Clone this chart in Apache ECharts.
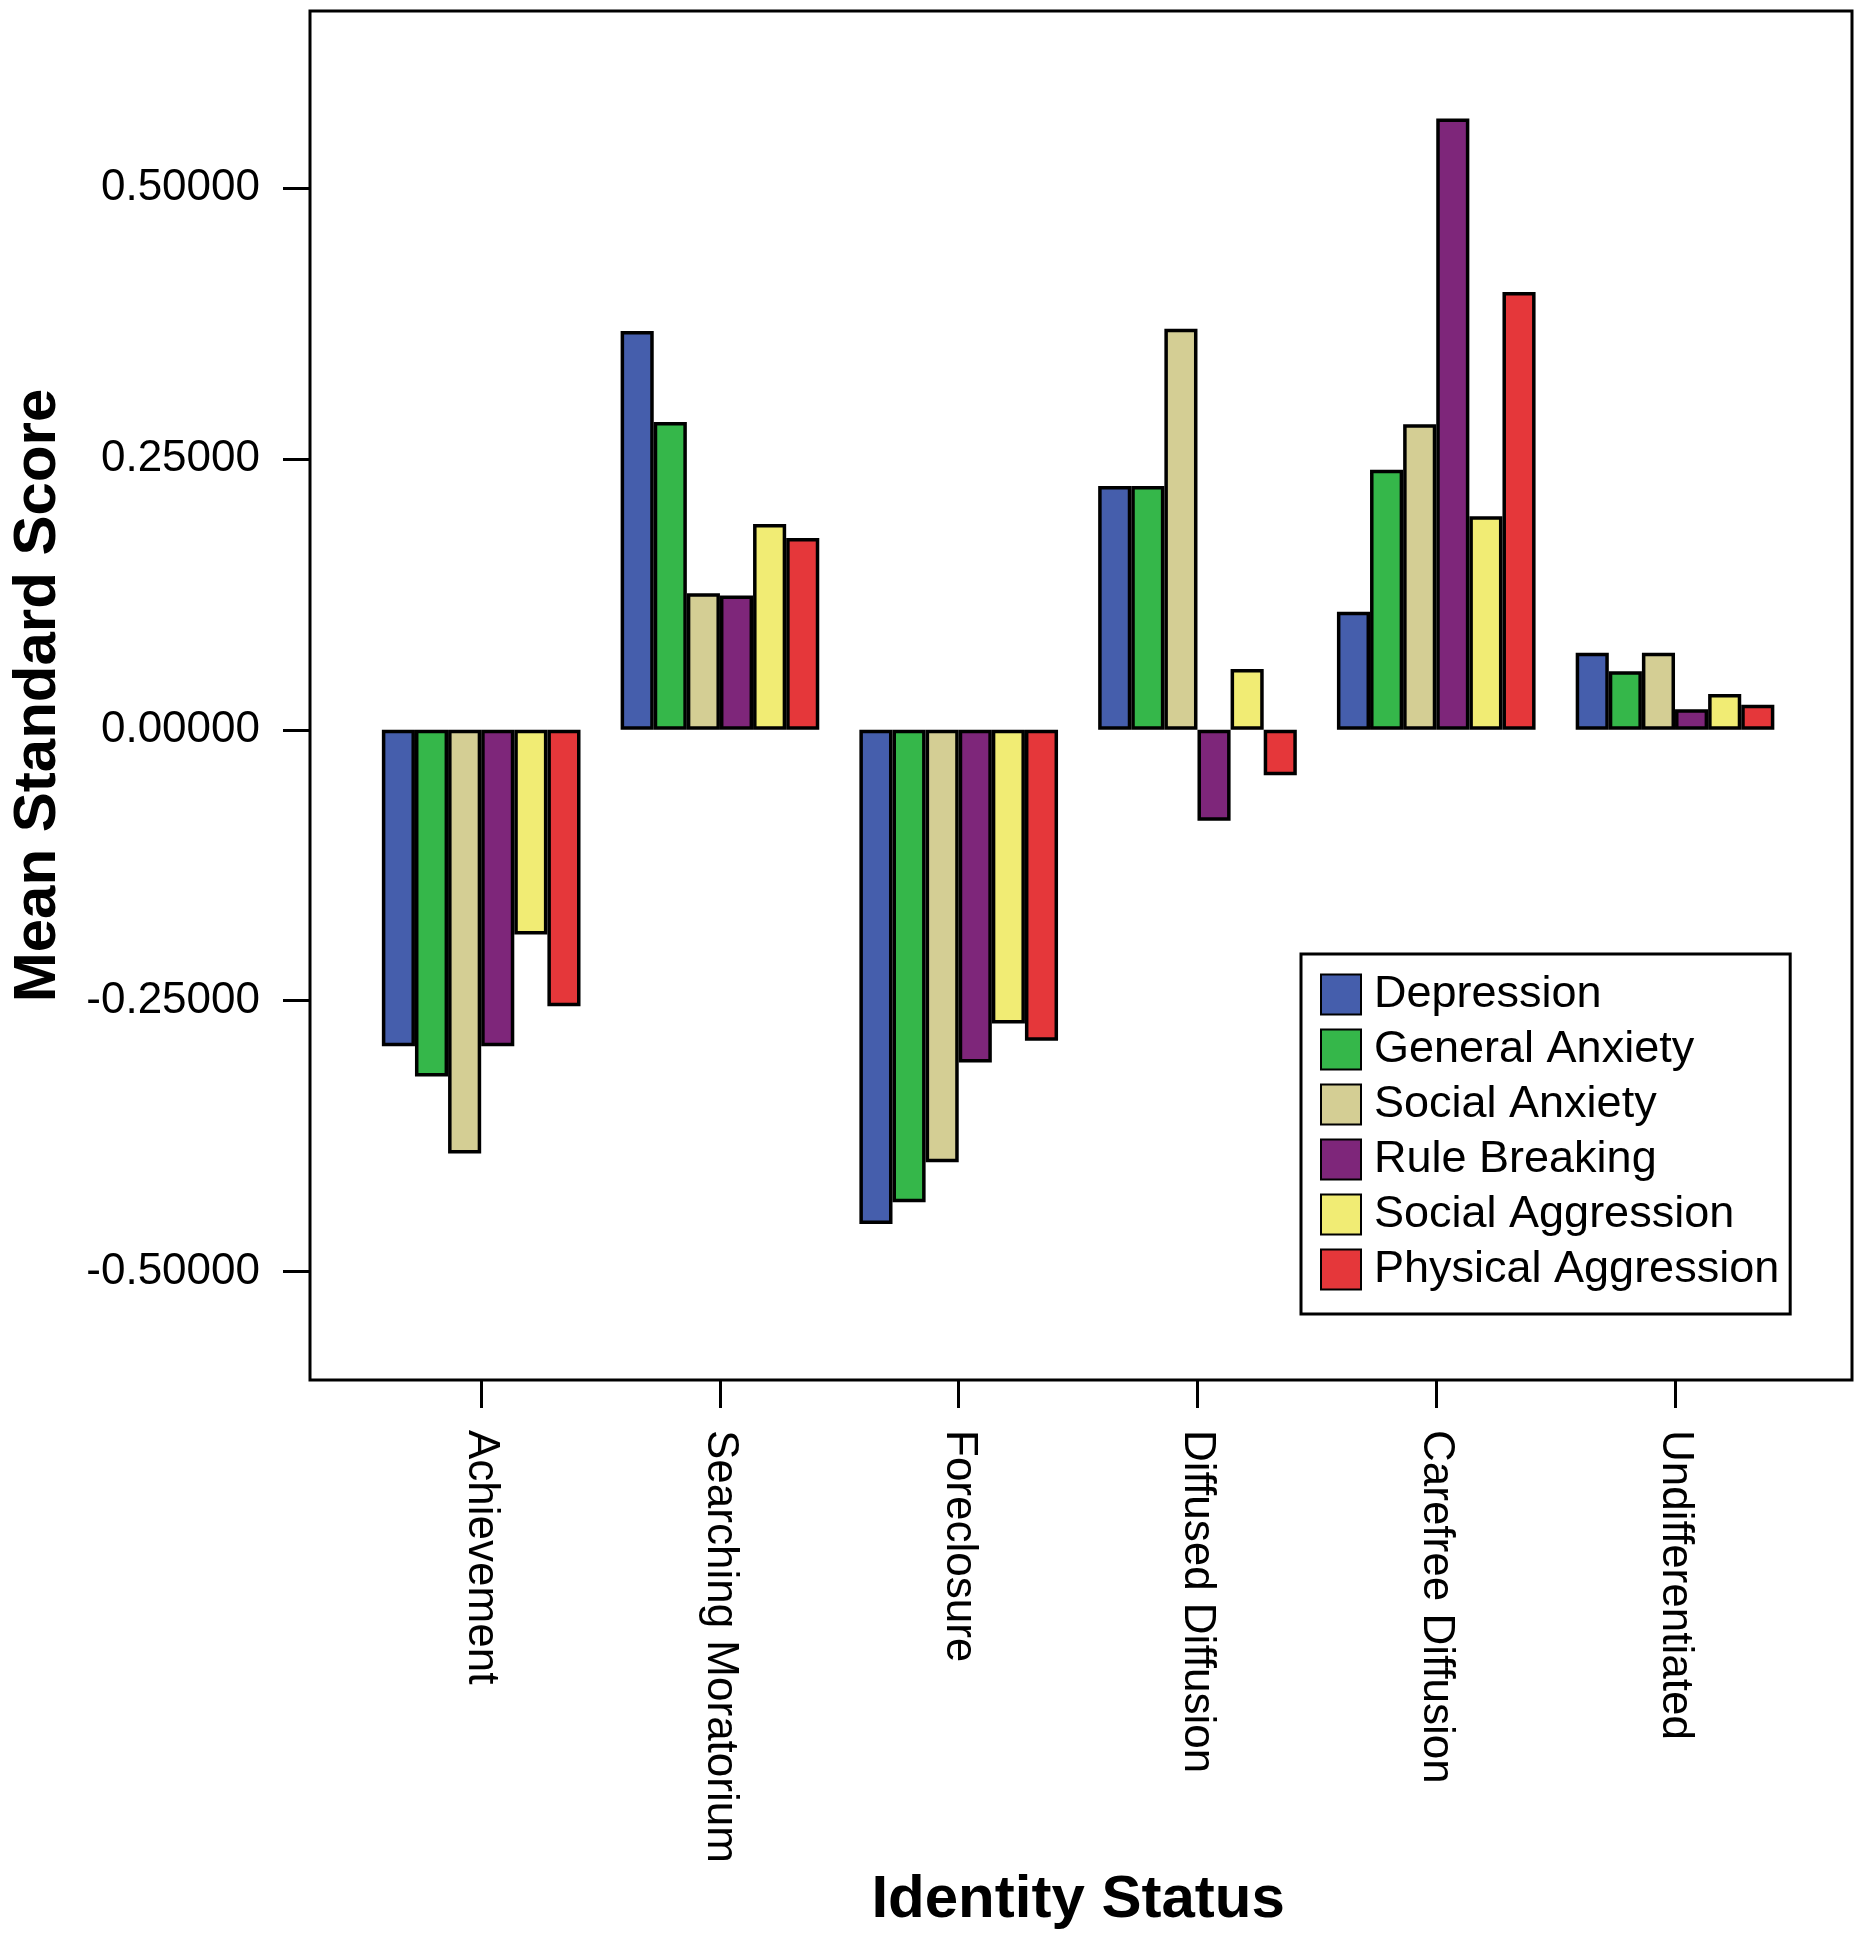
<!DOCTYPE html>
<html>
<head>
<meta charset="utf-8">
<script src="https://cdn.jsdelivr.net/npm/echarts@6/dist/echarts.min.js"></script>
<style>
  html, body { margin: 0; padding: 0; background: #fff; }
  #chart { width: 1864px; height: 1950px; }
</style>
</head>
<body>
<div id="chart"></div>
<script>
// identity status groups
var categories = ['Achievement', 'Searching Moratorium', 'Foreclosure',
    'Diffused Diffusion', 'Carefree Diffusion', 'Undifferentiated'];

var seriesNames = ['Depression', 'General Anxiety', 'Social Anxiety',
    'Rule Breaking', 'Social Aggression', 'Physical Aggression'];

// mean standard scores
var depression = [-0.292, 0.368, -0.456, 0.225, 0.109, 0.071];
var generalAnxiety = [-0.320, 0.284, -0.436, 0.225, 0.240, 0.054];
var socialAnxiety = [-0.391, 0.126, -0.399, 0.370, 0.282, 0.071];
var ruleBreaking = [-0.292, 0.124, -0.307, -0.084, 0.564, 0.019];
var socialAggression = [-0.189, 0.190, -0.271, 0.056, 0.197, 0.033];
var physicalAggression = [-0.255, 0.177, -0.287, -0.042, 0.404, 0.023];

var yTicks = [-0.5, -0.25, 0, 0.25, 0.5];

var seriesData = [depression, generalAnxiety, socialAnxiety,
    ruleBreaking, socialAggression, physicalAggression];
var colors = ['#455EAC', '#35B74A', '#D4CE94', '#7E267A', '#F1EC74', '#E5373A'];

var font = 'Liberation Sans, Arial, Helvetica, sans-serif';
var yMin = -0.6, yMax = 0.6633;

var myChart = echarts.init(document.getElementById('chart'));

var series = seriesNames.map(function(name, i) {
    return {
        name: name,
        type: 'bar',
        xAxisIndex: 1,
        yAxisIndex: 1,
        data: seriesData[i],
        barGap: '0%',
        barCategoryGap: '16.8%',
        itemStyle: {
            color: colors[i],
            borderColor: '#000',
            borderWidth: 3.5
        },
        emphasis: { disabled: true },
        animation: false
    };
});

var option = {
    backgroundColor: '#fff',
    animation: false,
    textStyle: { fontFamily: font, color: '#000' },
    grid: [
        {   // the frame with the value axis
            left: 305, top: 11, width: 1547, height: 1369,
            show: true, borderColor: '#000', borderWidth: 3,
            backgroundColor: 'transparent'
        },
        {   // inset grid that holds the categories
            left: 361.8, top: 11, width: 1432.6, height: 1369
        }
    ],
    xAxis: [
        { gridIndex: 0, type: 'value', show: false, min: 0, max: 1 },
        {
            gridIndex: 1,
            type: 'category',
            data: categories,
            name: 'Identity Status',
            nameLocation: 'middle',
            nameGap: 488,
            nameTextStyle: { fontFamily: font, fontSize: 60, fontWeight: 'bold', color: '#000' },
            axisLine: { show: false, onZero: false },
            axisTick: { show: true, alignWithLabel: true, length: 28, lineStyle: { color: '#000', width: 3 } },
            axisLabel: {
                rotate: -90, margin: 50, fontSize: 44, color: '#000', fontFamily: font
            },
            splitLine: { show: false }
        }
    ],
    yAxis: [
        {
            gridIndex: 0,
            type: 'value',
            min: yMin,
            max: yMax,
            name: 'Mean Standard Score',
            nameLocation: 'middle',
            nameRotate: 90,
            nameGap: 242,
            nameTextStyle: { fontFamily: font, fontSize: 60, fontWeight: 'bold', color: '#000' },
            axisLine: { show: false },
            axisTick: {
                show: true, length: 27, customValues: yTicks,
                lineStyle: { color: '#000', width: 3 }
            },
            axisLabel: {
                customValues: yTicks, margin: 50, fontSize: 44, color: '#000', fontFamily: font,
                formatter: function(v) { return v.toFixed(5); }
            },
            splitLine: { show: false }
        },
        { gridIndex: 1, type: 'value', min: yMin, max: yMax, show: false }
    ],
    legend: {
        orient: 'vertical',
        left: 1301,
        top: 954,
        width: 494,
        padding: [18, 11, 22, 19],
        backgroundColor: '#fff',
        borderColor: '#000',
        borderWidth: 3,
        icon: 'rect',
        itemWidth: 40,
        itemHeight: 40,
        itemGap: 10,
        selectedMode: false,
        data: seriesNames,
        textStyle: { fontFamily: font, fontSize: 45, color: '#000', padding: [0, 0, 0, 8] }
    },
    series: series
};

myChart.setOption(option);
</script>
</body>
</html>
